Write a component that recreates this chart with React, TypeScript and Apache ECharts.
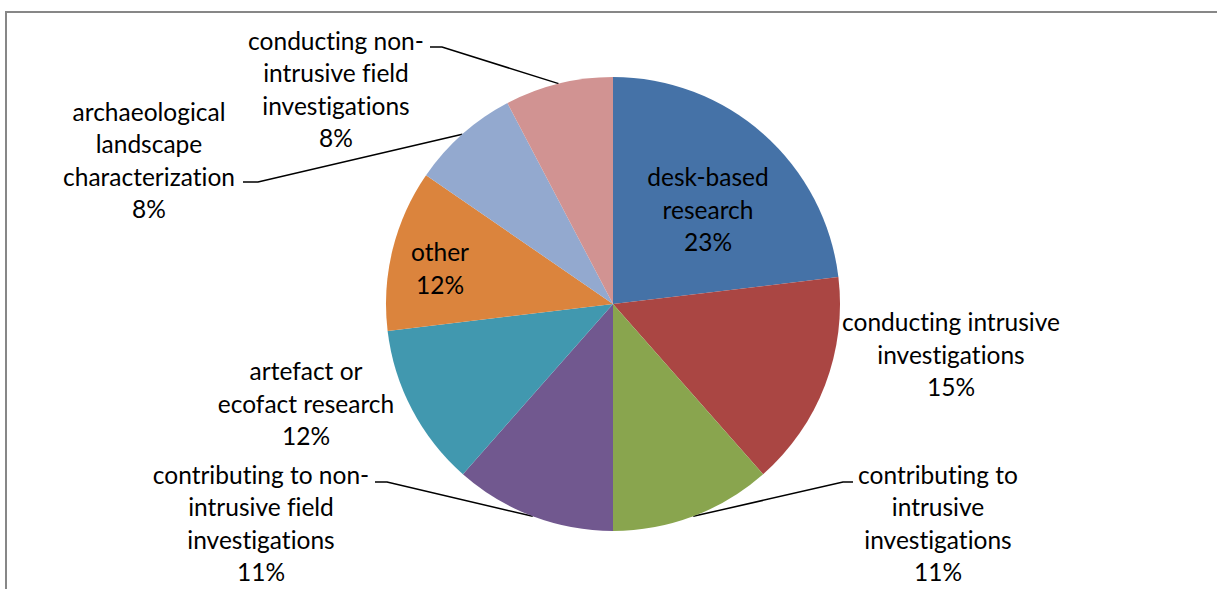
import React, { useEffect, useRef } from "react";
import * as echarts from "echarts";

const categories = [
  "desk-based\nresearch",
  "conducting intrusive\ninvestigations",
  "contributing to\nintrusive\ninvestigations",
  "contributing to non-\nintrusive field\ninvestigations",
  "artefact or\necofact research",
  "other",
  "archaeological\nlandscape\ncharacterization",
  "conducting non-\nintrusive field\ninvestigations",
];
const values = [23.1, 15.4, 11.5, 11.5, 11.6, 11.5, 7.7, 7.7];
const pctLabels = ["23%", "15%", "11%", "11%", "12%", "12%", "8%", "8%"];
const colors = ["#4572A7", "#AA4643", "#89A54E", "#71588F", "#4198AF", "#DB843D", "#93A9CF", "#D19392"];

// label centres (px) and leader-line end points
const labelPos: [number, number][] = [
  [708, 209],
  [951, 354],
  [938, 523],
  [261, 523],
  [306, 403],
  [440, 268],
  [149, 160],
  [336, 89],
];
const leaderEnds: ([number, number][] | null)[] = [
  null,
  null,
  [[843, 482], [853, 482]],
  [[387, 482], [375, 482]],
  null,
  null,
  [[258, 182], [243, 182]],
  [[442, 47], [430, 47]],
];

export default function App() {
  const ref = useRef<HTMLDivElement>(null);
  useEffect(() => {
    if (!ref.current) return;
    const chart = echarts.init(ref.current, null, { renderer: "svg" });
    chart.setOption({
      animation: false,
      backgroundColor: "#ffffff",
      graphic: [
        {
          type: "rect",
          shape: { x: 6, y: 12, width: 1400, height: 1000 },
          style: { fill: "none", stroke: "#878787", lineWidth: 2 },
          silent: true,
        },
      ],
      series: [
        {
          type: "pie",
          center: [613, 304],
          radius: 227,
          startAngle: 90,
          clockwise: true,
          avoidLabelOverlap: false,
          itemStyle: { borderWidth: 0 },
          label: {
            show: true,
            position: "outside",
            color: "#000000",
            fontFamily: "Lato",
            fontSize: 24.5,
            lineHeight: 32.5,
            align: "center",
            formatter: (p: any) => categories[p.dataIndex] + "\n" + pctLabels[p.dataIndex],
          },
          labelLine: {
            show: true,
            lineStyle: { color: "#000000", width: 1.5 },
          },
          labelLayout: (p: any) => {
            const i = p.dataIndex;
            const out: any = {
              x: labelPos[i][0],
              y: labelPos[i][1],
              align: "center",
              verticalAlign: "middle",
              hideOverlap: false,
            };
            const ends = leaderEnds[i];
            if (ends && p.labelLinePoints) {
              out.labelLinePoints = [p.labelLinePoints[0], ends[0], ends[1]];
            }
            return out;
          },
          data: values.map((v, i) => ({
            name: categories[i],
            value: v,
            itemStyle: { color: colors[i] },
            labelLine: { show: leaderEnds[i] !== null },
          })),
        },
      ],
    });
    return () => chart.dispose();
  }, []);
  return (
    <>
      <style>{"#pie-chart text{font-variant-ligatures:none;font-feature-settings:'liga' 0,'clig' 0;}"}</style>
      <div
        id="pie-chart"
        ref={ref}
        style={{ position: "fixed", left: 0, top: 0, width: 1217, height: 589 }}
      />
    </>
  );
}
